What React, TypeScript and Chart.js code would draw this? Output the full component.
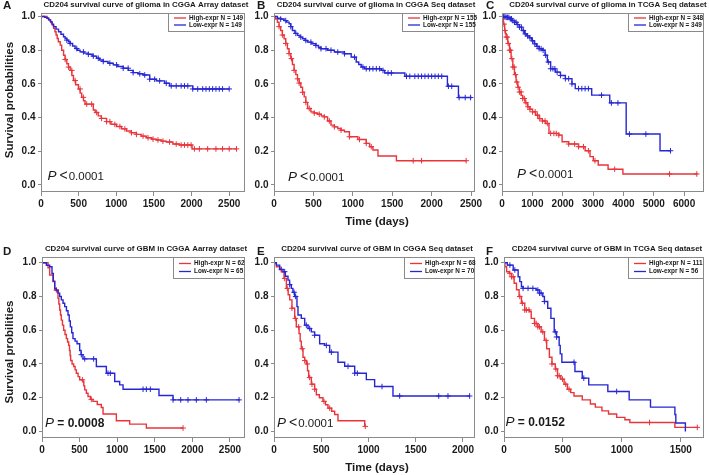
import React, { useEffect, useRef } from "react";
import { Chart, registerables } from "chart.js";
Chart.register(...registerables);

const W = 709;
const H = 475;
const FONT = '"Liberation Sans", Arial, sans-serif';
const RED = "#e8343a";
const BLUE = "#2626d4";
const GRAY = "#8a8a8a";
const TXT = "#1a1a1a";

// ---------- labels ----------
const LETTERS = ["A", "B", "C", "D", "E", "F"];
const TITLES = [
  "CD204 survival curve of glioma in CGGA Array dataset",
  "CD204 survival curve of glioma in CGGA Seq dataset",
  "CD204 survival curve of glioma in TCGA Seq dataset",
  "CD204 survival curve of GBM in CGGA Aarray dataset",
  "CD204 survival curve of GBM in CGGA Seq dataset",
  "CD204 survival curve of GBM in TCGA Seq dataset",
];
const HIGH_N = [149, 155, 348, 62, 68, 111];
const LOW_N = [149, 155, 349, 65, 70, 56];
const P_REST = ["<0.0001", "<0.0001", "<0.0001", "= 0.0008", "<0.0001", "= 0.0152"];
const P_BOLD = [false, false, false, true, false, true];
const Y_TICKS = [0, 0.2, 0.4, 0.6, 0.8, 1.0];
const X_TICKS_A = [0, 500, 1000, 1500, 2000, 2500];
const X_TICKS_B = [0, 500, 1000, 1500, 2000, 2500];
const X_TICKS_C = [0, 1000, 2000, 3000, 4000, 5000, 6000];
const X_TICKS_D = [0, 500, 1000, 1500, 2000, 2500];
const X_TICKS_E = [0, 500, 1000, 1500, 2000];
const X_TICKS_F = [0, 500, 1000, 1500];
const Y_TITLE_TOP = "Survival probabilities";
const Y_TITLE_BOTTOM = "Survival probilities";
const X_TITLE = "Time (days)";

// ---------- A ----------
const A_HIGH_T = [0, 80, 105, 130, 150, 167, 185, 200, 215, 230, 255, 275, 300, 320, 343, 365, 387, 410, 431, 460, 497, 520, 541, 565, 585, 695, 720, 760, 800, 871, 930, 1003, 1070, 1136, 1200, 1268, 1330, 1400, 1470, 1532, 1600, 1664, 1752, 1840, 2007, 2600];
const A_HIGH_S = [1, 0.99, 0.98, 0.965, 0.95, 0.93, 0.91, 0.89, 0.87, 0.85, 0.83, 0.8, 0.77, 0.745, 0.72, 0.7, 0.68, 0.65, 0.62, 0.595, 0.57, 0.545, 0.52, 0.5, 0.48, 0.445, 0.43, 0.41, 0.395, 0.376, 0.36, 0.347, 0.333, 0.32, 0.31, 0.3, 0.29, 0.28, 0.272, 0.267, 0.26, 0.255, 0.243, 0.237, 0.214, 0.214];
const A_HIGH_C = [321, 365, 409, 453, 519, 563, 607, 673, 739, 805, 871, 915, 981, 1048, 1114, 1202, 1268, 1356, 1422, 1488, 1554, 1620, 1708, 1796, 1862, 1906, 1950, 1994, 2038, 2104, 2214, 2324, 2412, 2500, 2597];
const A_LOW_T = [0, 50, 79, 100, 123, 145, 167, 200, 233, 265, 299, 320, 343, 365, 387, 420, 453, 485, 519, 570, 629, 680, 739, 780, 827, 890, 960, 1020, 1092, 1160, 1224, 1290, 1356, 1444, 1532, 1642, 1708, 2016, 2500];
const A_LOW_S = [1, 0.995, 0.99, 0.98, 0.97, 0.955, 0.94, 0.925, 0.91, 0.895, 0.88, 0.87, 0.86, 0.85, 0.84, 0.825, 0.81, 0.8, 0.79, 0.783, 0.776, 0.765, 0.752, 0.742, 0.733, 0.723, 0.713, 0.703, 0.693, 0.68, 0.667, 0.66, 0.653, 0.628, 0.618, 0.604, 0.588, 0.57, 0.57];
const A_LOW_C = [343, 387, 475, 563, 629, 695, 761, 827, 915, 1004, 1092, 1158, 1224, 1312, 1378, 1444, 1510, 1576, 1664, 1730, 1796, 1862, 1906, 1950, 2016, 2082, 2148, 2192, 2236, 2280, 2324, 2368, 2412, 2500];

// ---------- B ----------
const B_HIGH_T = [0, 20, 43, 64, 85, 106, 128, 149, 170, 191, 213, 234, 255, 277, 298, 319, 340, 362, 383, 404, 426, 468, 510, 553, 600, 638, 680, 723, 766, 809, 850, 894, 957, 1064, 1170, 1213, 1255, 1319, 1553, 2440];
const B_HIGH_S = [1, 0.985, 0.966, 0.94, 0.917, 0.89, 0.868, 0.84, 0.809, 0.78, 0.75, 0.715, 0.68, 0.655, 0.63, 0.605, 0.58, 0.55, 0.523, 0.49, 0.454, 0.434, 0.427, 0.42, 0.41, 0.404, 0.38, 0.355, 0.345, 0.335, 0.325, 0.316, 0.286, 0.27, 0.247, 0.227, 0.207, 0.172, 0.144, 0.144];
const B_HIGH_C = [64, 106, 149, 191, 221, 255, 298, 319, 362, 404, 447, 511, 574, 638, 702, 766, 851, 957, 1085, 1170, 1234, 1766, 1872, 2438];
const B_LOW_T = [0, 43, 85, 128, 160, 191, 213, 234, 265, 298, 330, 362, 394, 426, 480, 532, 564, 596, 680, 766, 894, 979, 1043, 1075, 1106, 1149, 1362, 1404, 1660, 2200, 2340, 2510];
const B_LOW_S = [1, 0.99, 0.985, 0.976, 0.967, 0.957, 0.94, 0.917, 0.9, 0.888, 0.878, 0.868, 0.858, 0.848, 0.838, 0.828, 0.818, 0.809, 0.8, 0.789, 0.779, 0.759, 0.73, 0.715, 0.7, 0.69, 0.68, 0.665, 0.645, 0.586, 0.519, 0.519];
const B_LOW_C = [85, 149, 213, 277, 340, 404, 468, 532, 596, 660, 723, 809, 894, 1021, 1128, 1170, 1213, 1255, 1298, 1340, 1383, 1447, 1489, 1681, 1723, 1787, 1830, 1872, 1915, 1957, 2000, 2043, 2085, 2128, 2213, 2255, 2349, 2426, 2494];

// ---------- C ----------
const C_HIGH_T = [0, 10, 40, 87, 115, 141, 190, 249, 300, 357, 410, 465, 520, 574, 630, 682, 760, 844, 920, 1006, 1110, 1223, 1330, 1439, 1548, 1872, 1980, 2197, 2522, 2738, 2900, 3008, 3170, 3495, 3983, 6440];
const C_HIGH_S = [1, 0.985, 0.955, 0.917, 0.898, 0.878, 0.84, 0.8, 0.75, 0.7, 0.655, 0.611, 0.58, 0.552, 0.532, 0.513, 0.488, 0.464, 0.449, 0.434, 0.414, 0.394, 0.38, 0.365, 0.306, 0.296, 0.256, 0.243, 0.227, 0.203, 0.168, 0.144, 0.118, 0.093, 0.065, 0.065];
const C_HIGH_C = [32, 65, 97, 141, 173, 206, 249, 281, 325, 357, 400, 444, 487, 530, 574, 628, 682, 736, 790, 855, 920, 1006, 1093, 1169, 1245, 1331, 1418, 1494, 1602, 1710, 1786, 1872, 2197, 2392, 2522, 2684, 2846, 3063, 3712, 5519, 6418];
const C_LOW_T = [0, 100, 249, 330, 411, 490, 574, 650, 736, 820, 898, 980, 1061, 1140, 1223, 1331, 1418, 1494, 1602, 1764, 1926, 2088, 2305, 2413, 2955, 3550, 4091, 5206, 5552];
const C_LOW_S = [1, 0.995, 0.986, 0.976, 0.966, 0.952, 0.937, 0.917, 0.897, 0.885, 0.874, 0.856, 0.838, 0.823, 0.809, 0.8, 0.77, 0.73, 0.69, 0.67, 0.65, 0.631, 0.6, 0.572, 0.533, 0.487, 0.302, 0.203, 0.203];
const C_LOW_C = [54, 97, 141, 184, 227, 271, 314, 357, 411, 465, 520, 574, 639, 703, 768, 844, 920, 1006, 1082, 1158, 1223, 1288, 1353, 1439, 1526, 1602, 1677, 1742, 1818, 1926, 2088, 2197, 2305, 2522, 2630, 2738, 2846, 3279, 3604, 3820, 4199, 4740, 5552];

// ---------- D ----------
const D_HIGH_T = [0, 80, 102, 146, 169, 213, 224, 235, 246, 257, 272, 288, 306, 324, 340, 355, 366, 374, 381, 400, 421, 440, 457, 480, 501, 545, 556, 568, 590, 612, 645, 678, 735, 789, 812, 989, 1166, 1388, 1876];
const D_HIGH_S = [1, 0.97, 0.927, 0.888, 0.838, 0.789, 0.755, 0.72, 0.69, 0.66, 0.63, 0.6, 0.575, 0.55, 0.53, 0.51, 0.48, 0.45, 0.42, 0.4, 0.385, 0.365, 0.345, 0.325, 0.306, 0.296, 0.27, 0.246, 0.226, 0.207, 0.19, 0.178, 0.16, 0.142, 0.103, 0.063, 0.043, 0.02, 0.02];
const D_HIGH_C = [191, 537, 656, 1876];
const D_LOW_T = [0, 58, 102, 133, 150, 169, 190, 213, 235, 257, 280, 302, 325, 346, 362, 377, 395, 412, 440, 466, 501, 520, 545, 723, 856, 967, 1033, 1078, 1556, 1743, 2630];
const D_LOW_S = [1, 0.985, 0.976, 0.937, 0.89, 0.848, 0.835, 0.82, 0.8, 0.78, 0.76, 0.74, 0.715, 0.69, 0.655, 0.62, 0.585, 0.55, 0.535, 0.52, 0.48, 0.455, 0.43, 0.385, 0.345, 0.296, 0.276, 0.25, 0.213, 0.187, 0.187];
const D_LOW_C = [523, 568, 687, 878, 909, 1344, 1388, 1441, 1743, 1845, 1942, 2053, 2186, 2621];

// ---------- E ----------
const E_HIGH_T = [0, 25, 60, 78, 106, 131, 150, 166, 190, 219, 236, 265, 277, 289, 307, 325, 342, 355, 367, 395, 430, 448, 480, 518, 545, 571, 610, 642, 677, 960, 966];
const E_HIGH_S = [1, 0.976, 0.966, 0.947, 0.907, 0.848, 0.81, 0.78, 0.73, 0.67, 0.62, 0.58, 0.535, 0.49, 0.44, 0.42, 0.4, 0.36, 0.32, 0.28, 0.25, 0.217, 0.2, 0.178, 0.158, 0.138, 0.12, 0.1, 0.063, 0.03, 0.03];
const E_HIGH_C = [113, 141, 190, 226, 261, 300, 325, 353, 377, 402, 430, 529, 589, 966];
const E_LOW_T = [0, 25, 60, 95, 120, 148, 165, 183, 200, 219, 243, 254, 289, 325, 360, 395, 430, 483, 536, 589, 677, 748, 854, 977, 1065, 1259, 2070];
const E_LOW_S = [1, 0.986, 0.96, 0.947, 0.92, 0.897, 0.87, 0.848, 0.825, 0.8, 0.74, 0.69, 0.67, 0.63, 0.61, 0.59, 0.57, 0.52, 0.51, 0.47, 0.41, 0.386, 0.345, 0.307, 0.266, 0.21, 0.21];
const E_LOW_C = [78, 113, 166, 212, 229, 342, 377, 430, 554, 607, 783, 854, 882, 1143, 1330, 1743, 1841, 2070];

// ---------- F ----------
const F_HIGH_T = [0, 8, 22, 45, 64, 86, 106, 128, 148, 176, 217, 231, 259, 287, 315, 343, 362, 385, 407, 435, 454, 482, 510, 538, 566, 594, 664, 733, 775, 831, 887, 956, 1026, 1068, 1450, 1640];
const F_HIGH_S = [1, 0.976, 0.947, 0.937, 0.917, 0.878, 0.84, 0.8, 0.76, 0.72, 0.71, 0.67, 0.64, 0.62, 0.59, 0.54, 0.49, 0.44, 0.4, 0.37, 0.33, 0.31, 0.28, 0.25, 0.23, 0.21, 0.187, 0.163, 0.144, 0.122, 0.103, 0.083, 0.069, 0.053, 0.024, 0.024];
const F_HIGH_C = [50, 64, 78, 134, 156, 176, 190, 212, 259, 273, 287, 301, 329, 357, 407, 440, 454, 468, 496, 524, 552, 1235, 1640];
const F_LOW_T = [0, 28, 78, 120, 134, 148, 162, 273, 301, 329, 343, 371, 398, 426, 446, 468, 477, 491, 602, 664, 719, 881, 1062, 1243, 1450, 1458, 1539];
const F_LOW_S = [1, 0.986, 0.957, 0.917, 0.888, 0.858, 0.848, 0.838, 0.82, 0.8, 0.77, 0.73, 0.67, 0.59, 0.56, 0.51, 0.46, 0.41, 0.355, 0.316, 0.276, 0.237, 0.187, 0.144, 0.1, 0.05, 0.0];
const F_LOW_C = [50, 92, 162, 204, 245, 287, 301, 315, 343, 435, 446, 594, 677, 956];

// ---------- layout (pixels) ----------
const YW = 32;
const XH = 22;
type Panel = {
  box: number[]; xMax: number; xTicks: number[]; yMin: number; yMax: number;
  hT: number[]; hS: number[]; hC: number[]; lT: number[]; lS: number[]; lC: number[];
  titleX: number; titleY: number; letterX: number; letterY: number;
  legW: number; legH: number; pX: number; pY: number;
  yTitle?: string; yTitleY?: number; xTitle?: boolean; xTitleY?: number;
};
const PANELS: Panel[] = [
  { box: [41, 13, 245, 192], xMax: 2710, xTicks: X_TICKS_A, yMin: -0.042, yMax: 1.021,
    hT: A_HIGH_T, hS: A_HIGH_S, hC: A_HIGH_C, lT: A_LOW_T, lS: A_LOW_S, lC: A_LOW_C,
    titleX: 146, titleY: 5, letterX: 3, letterY: 6, legW: 77, legH: 19, pX: 47.5, pY: 180,
    yTitle: Y_TITLE_TOP, yTitleY: 100 },
  { box: [274, 13, 475, 192], xMax: 2550, xTicks: X_TICKS_B, yMin: -0.042, yMax: 1.021,
    hT: B_HIGH_T, hS: B_HIGH_S, hC: B_HIGH_C, lT: B_LOW_T, lS: B_LOW_S, lC: B_LOW_C,
    titleX: 376, titleY: 5, letterX: 257, letterY: 6, legW: 73, legH: 19, pX: 288, pY: 181,
    xTitle: true, xTitleY: 222 },
  { box: [502, 13, 707, 192], xMax: 6655, xTicks: X_TICKS_C, yMin: -0.042, yMax: 1.021,
    hT: C_HIGH_T, hS: C_HIGH_S, hC: C_HIGH_C, lT: C_LOW_T, lS: C_LOW_S, lC: C_LOW_C,
    titleX: 608, titleY: 5, letterX: 486, letterY: 6, legW: 76, legH: 19, pX: 517, pY: 178 },
  { box: [42, 257, 245, 438], xMax: 2700, xTicks: X_TICKS_D, yMin: -0.039, yMax: 1.034,
    hT: D_HIGH_T, hS: D_HIGH_S, hC: D_HIGH_C, lT: D_LOW_T, lS: D_LOW_S, lC: D_LOW_C,
    titleX: 146, titleY: 249, letterX: 3, letterY: 252, legW: 72, legH: 22, pX: 45, pY: 427,
    yTitle: Y_TITLE_BOTTOM, yTitleY: 352 },
  { box: [274, 257, 475, 438], xMax: 2127, xTicks: X_TICKS_E, yMin: -0.039, yMax: 1.034,
    hT: E_HIGH_T, hS: E_HIGH_S, hC: E_HIGH_C, lT: E_LOW_T, lS: E_LOW_S, lC: E_LOW_C,
    titleX: 377, titleY: 249, letterX: 257, letterY: 252, legW: 71, legH: 22, pX: 277, pY: 427,
    xTitle: true, xTitleY: 468 },
  { box: [504, 257, 707, 438], xMax: 1697, xTicks: X_TICKS_F, yMin: -0.039, yMax: 1.034,
    hT: F_HIGH_T, hS: F_HIGH_S, hC: F_HIGH_C, lT: F_LOW_T, lS: F_LOW_S, lC: F_LOW_C,
    titleX: 607, titleY: 249, letterX: 486, letterY: 252, legW: 76, legH: 22, pX: 505.5, pY: 426 },
];

function stepAt(ts: number[], ss: number[], t: number) {
  let v = ss[0];
  for (let i = 0; i < ts.length; i++) {
    if (ts[i] <= t) v = ss[i];
    else break;
  }
  return v;
}

function curve(ts: number[], ss: number[], color: string) {
  return {
    type: "line" as const,
    data: ts.map((x, i) => ({ x, y: ss[i] })),
    stepped: true,
    borderColor: color,
    borderWidth: 1.4,
    pointRadius: 0,
    fill: false,
    tension: 0,
  };
}
function marks(cs: number[], ts: number[], ss: number[], color: string) {
  return {
    type: "scatter" as const,
    data: cs.map((x) => ({ x, y: stepAt(ts, ss, x) })),
    pointStyle: "cross",
    pointRadius: 2.8,
    borderColor: color,
    backgroundColor: color,
    borderWidth: 1,
    showLine: false,
  };
}

function makeDecor(idx: number) {
  const p = PANELS[idx];
  return {
    id: "decor" + idx,
    afterDraw(chart: any) {
      const ctx = chart.ctx as CanvasRenderingContext2D;
      const a = chart.chartArea;
      ctx.save();
      // frame
      ctx.strokeStyle = GRAY;
      ctx.lineWidth = 1;
      ctx.strokeRect(a.left + 0.5, a.top + 0.5, a.right - a.left - 1, a.bottom - a.top - 1);
      // legend
      const lx = a.right - p.legW;
      const ly = a.top;
      ctx.fillStyle = "#ffffff";
      ctx.fillRect(lx, ly, p.legW, p.legH);
      ctx.strokeRect(lx + 0.5, ly + 0.5, p.legW - 1, p.legH - 1);
      const r1 = ly + (p.legH > 20 ? 6.5 : 5);
      const r2 = ly + (p.legH > 20 ? 14.5 : 12);
      ctx.lineWidth = 1.3;
      ctx.strokeStyle = RED;
      ctx.beginPath(); ctx.moveTo(lx + 6, r1); ctx.lineTo(lx + 18, r1); ctx.stroke();
      ctx.strokeStyle = BLUE;
      ctx.beginPath(); ctx.moveTo(lx + 6, r2); ctx.lineTo(lx + 18, r2); ctx.stroke();
      ctx.fillStyle = TXT;
      ctx.font = `bold 6.4px ${FONT}`;
      ctx.textAlign = "left";
      ctx.textBaseline = "middle";
      ctx.fillText(`High-expr N = ${HIGH_N[idx]}`, lx + 21, r1);
      ctx.fillText(`Low-expr N = ${LOW_N[idx]}`, lx + 21, r2);
      // title
      ctx.font = `bold 7.9px ${FONT}`;
      ctx.textAlign = "center";
      ctx.fillText(TITLES[idx], p.titleX, p.titleY);
      // letter
      ctx.font = `bold 11.5px ${FONT}`;
      ctx.textAlign = "left";
      ctx.fillText(LETTERS[idx], p.letterX, p.letterY);
      // p-value
      ctx.textBaseline = "alphabetic";
      ctx.font = `italic 13.5px ${FONT}`;
      ctx.fillText("P", p.pX, p.pY);
      const pw = ctx.measureText("P").width;
      if (P_BOLD[idx]) {
        ctx.font = `bold 12px ${FONT}`;
        ctx.fillText(" " + P_REST[idx], p.pX + pw, p.pY);
      } else {
        ctx.font = `14px ${FONT}`;
        ctx.fillText("<", p.pX + pw + 3, p.pY);
        const lw = ctx.measureText("<").width;
        ctx.font = `11.5px ${FONT}`;
        ctx.fillText(P_REST[idx].slice(1), p.pX + pw + 4 + lw, p.pY);
      }
      // axis titles
      ctx.font = `bold 11.5px ${FONT}`;
      ctx.textAlign = "center";
      ctx.textBaseline = "middle";
      if (p.yTitle) {
        ctx.save();
        ctx.translate(9.5, p.yTitleY as number);
        ctx.rotate(-Math.PI / 2);
        ctx.fillText(p.yTitle, 0, 0);
        ctx.restore();
      }
      if (p.xTitle) {
        ctx.fillText(X_TITLE, 377, p.xTitleY as number);
      }
      ctx.restore();
    },
  };
}

function buildChart(canvas: HTMLCanvasElement, idx: number) {
  const p = PANELS[idx];
  const tickFont = { family: FONT, size: 10, weight: "bold" as const };
  return new Chart(canvas, {
    type: "scatter",
    data: {
      datasets: [
        curve(p.lT, p.lS, BLUE),
        curve(p.hT, p.hS, RED),
        marks(p.lC, p.lT, p.lS, BLUE),
        marks(p.hC, p.hT, p.hS, RED),
      ] as any,
    },
    options: {
      responsive: false,
      animation: false,
      events: [],
      layout: {
        padding: { left: p.box[0] - YW, top: p.box[1], right: W - p.box[2], bottom: H - p.box[3] - XH },
      },
      plugins: { legend: { display: false }, tooltip: { enabled: false }, title: { display: false } },
      scales: {
        x: {
          type: "linear",
          min: 0,
          max: p.xMax,
          bounds: "data",
          afterBuildTicks: (s: any) => { s.ticks = p.xTicks.map((v) => ({ value: v })); },
          afterFit: (s: any) => { s.height = XH; },
          grid: { drawOnChartArea: false, drawTicks: true, tickLength: 4, color: GRAY, lineWidth: 1 },
          border: { display: false },
          ticks: { font: tickFont, color: TXT, padding: 2.5, maxRotation: 0, autoSkip: false, callback: (v: any) => String(v) },
        },
        y: {
          type: "linear",
          min: p.yMin,
          max: p.yMax,
          bounds: "data",
          afterBuildTicks: (s: any) => { s.ticks = Y_TICKS.map((v) => ({ value: v })); },
          afterFit: (s: any) => { s.width = YW; },
          grid: { drawOnChartArea: false, drawTicks: true, tickLength: 3, color: GRAY, lineWidth: 1 },
          border: { display: false },
          ticks: { font: tickFont, color: TXT, padding: 2.5, autoSkip: false, callback: (v: any) => Number(v).toFixed(1) },
        },
      },
    } as any,
    plugins: [makeDecor(idx)],
  });
}

export default function App() {
  const refs = useRef<(HTMLCanvasElement | null)[]>([]);
  useEffect(() => {
    const charts = PANELS.map((_, i) => buildChart(refs.current[i] as HTMLCanvasElement, i));
    return () => charts.forEach((c) => c.destroy());
  }, []);
  return (
    <div style={{ position: "absolute", left: 0, top: 0, width: W, height: H, background: "#fff" }}>
      {PANELS.map((_, i) => (
        <canvas
          key={i}
          ref={(el) => { refs.current[i] = el; }}
          width={W}
          height={H}
          style={{ position: "absolute", left: 0, top: 0, width: W, height: H }}
        />
      ))}
    </div>
  );
}
